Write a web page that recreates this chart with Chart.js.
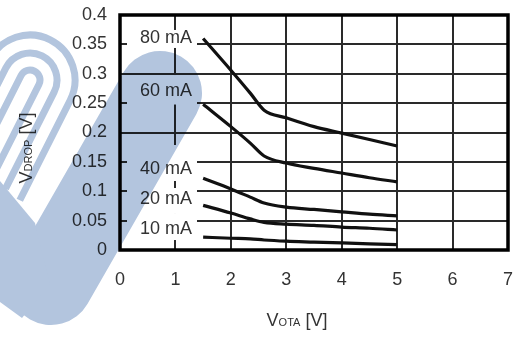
<!DOCTYPE html>
<html>
<head>
<meta charset="utf-8">
<script src="https://cdn.jsdelivr.net/npm/chart.js@4"></script>
<style>
  html, body { margin: 0; padding: 0; background: #fff; }
  #wrap { width: 518px; height: 338px; }
</style>
</head>
<body>
<div id="wrap"><canvas id="c" width="518" height="338"></canvas></div>
<script>
// ---- data ----
const vota = [1.5, 2, 2.35, 2.6, 3, 3.5, 4, 4.5, 5];
const v80 = [0.36, 0.306, 0.267, 0.238, 0.225, 0.21, 0.199, 0.188, 0.177];
const v60 = [0.248, 0.21, 0.182, 0.16, 0.148, 0.139, 0.131, 0.123, 0.116];
const v40 = [0.122, 0.104, 0.09, 0.08, 0.073, 0.069, 0.065, 0.061, 0.058];
const v20 = [0.076, 0.063, 0.053, 0.047, 0.044, 0.042, 0.039, 0.037, 0.034];
const v10 = [0.022, 0.02, 0.019, 0.017, 0.015, 0.0135, 0.012, 0.0105, 0.009];
const currents = ['80 mA', '60 mA', '40 mA', '20 mA', '10 mA'];
const labelX = [0.83, 0.83, 0.83, 0.83, 0.83];
const labelY = [0.3626, 0.2723, 0.1396, 0.0885, 0.0374];
const xTicks = [0, 1, 2, 3, 4, 5, 6, 7];
const yTicks = [0, 0.05, 0.1, 0.15, 0.2, 0.25, 0.3, 0.35, 0.4];

// ---- styling (not data) ----
const boxUp = [7, 15, 23, 10, 15];
const boxDown = [11, 14.5, 13, 15, 12];
const FONT = "'Liberation Sans', Arial, sans-serif";
const TXT = '#333';

const series = [v80, v60, v40, v20, v10];
const datasets = series.map((vals, i) => ({
  label: currents[i],
  data: vals.map((v, k) => ({ x: vota[k], y: v })),
  borderColor: '#111',
  borderWidth: 3.2,
  pointRadius: 0,
  fill: false,
  cubicInterpolationMode: 'monotone'
}));

function noPad(s) { s.paddingLeft = 0; s.paddingRight = 0; s.paddingTop = 0; s.paddingBottom = 0; }

const deco = {
  id: 'deco',
  beforeDraw(chart) {
    const ctx = chart.ctx;
    ctx.save();
    ctx.fillStyle = '#fff';
    ctx.fillRect(0, 0, chart.width, chart.height);
    ctx.restore();
  },
  beforeDatasetsDraw(chart) {
    const ctx = chart.ctx, xs = chart.scales.x, ys = chart.scales.y;
    ctx.save();
    ctx.font = '18px ' + FONT;
    ctx.textAlign = 'center';
    ctx.textBaseline = 'middle';
    currents.forEach((t, i) => {
      const cx = xs.getPixelForValue(labelX[i]);
      const cy = ys.getPixelForValue(labelY[i]);
      ctx.fillStyle = '#fff';
      ctx.fillRect(cx - 39, cy - boxUp[i], 70, boxUp[i] + boxDown[i]);
      ctx.fillStyle = TXT;
      ctx.fillText(t, cx, cy + 1);
    });
    ctx.restore();
  },
  afterDatasetsDraw(chart) {
    const ctx = chart.ctx, a = chart.chartArea;
    ctx.save();
    ctx.strokeStyle = '#000';
    ctx.lineWidth = 3.5;
    ctx.strokeRect(a.left, a.top, a.right - a.left, a.bottom - a.top);
    ctx.fillStyle = TXT;
    ctx.textBaseline = 'alphabetic';
    const big = '18px ' + FONT, small = '11px ' + FONT;
    ctx.font = big; const w1 = ctx.measureText('V').width;
    ctx.font = small; const w2 = ctx.measureText('OTA').width;
    ctx.font = big; const w3 = ctx.measureText(' [V]').width;
    let x0 = 297 - (w1 + w2 + w3) / 2, by = 326;
    ctx.textAlign = 'left';
    ctx.font = big; ctx.fillText('V', x0, by);
    ctx.font = small; ctx.fillText('OTA', x0 + w1, by);
    ctx.font = big; ctx.fillText(' [V]', x0 + w1 + w2, by);
    ctx.font = small; const u2 = ctx.measureText('DROP').width;
    const tot = w1 + u2 + w3;
    ctx.translate(32, 148);
    ctx.rotate(-Math.PI / 2);
    let s = -tot / 2;
    ctx.font = big; ctx.fillText('V', s, 0);
    ctx.font = small; ctx.fillText('DROP', s + w1, 0);
    ctx.font = big; ctx.fillText(' [V]', s + w1 + u2, 0);
    ctx.restore();
  },
  afterDraw(chart) {
    const ctx = chart.ctx;
    const off = document.createElement('canvas');
    off.width = chart.width; off.height = chart.height;
    const o = off.getContext('2d');
    const col = '#b3c5de';
    o.strokeStyle = col;
    o.fillStyle = col;
    o.lineCap = 'round';
    o.lineWidth = 84;
    o.beginPath();
    o.moveTo(160, 93);
    o.lineTo(51, 283);
    o.stroke();
    o.beginPath();
    o.moveTo(0, 181);
    o.lineTo(35, 223);
    o.lineTo(50, 284);
    o.lineTo(22, 318);
    o.lineTo(0, 302);
    o.closePath();
    o.fill();
    const C = [30, 80], d = [-0.45, 0.893], n = [0.893, 0.45];
    o.lineWidth = 7;
    o.lineCap = 'butt';
    [[45, 112], [27, 108], [10, 104]].forEach(([r, L]) => {
      o.beginPath();
      o.moveTo(C[0] - n[0] * r + d[0] * L, C[1] - n[1] * r + d[1] * L);
      o.lineTo(C[0] - n[0] * r, C[1] - n[1] * r);
      const a0 = Math.atan2(-n[1], -n[0]);
      o.arc(C[0], C[1], r, a0, a0 + Math.PI, false);
      o.lineTo(C[0] + n[0] * r + d[0] * L, C[1] + n[1] * r + d[1] * L);
      o.stroke();
    });
    ctx.save();
    ctx.globalCompositeOperation = 'multiply';
    ctx.drawImage(off, 0, 0);
    ctx.restore();
  }
};

new Chart(document.getElementById('c'), {
  type: 'line',
  data: { datasets },
  options: {
    responsive: false,
    animation: false,
    events: [],
    layout: { padding: { top: 15, right: 10, left: 0, bottom: 0 } },
    plugins: { legend: { display: false }, tooltip: { enabled: false }, title: { display: false } },
    scales: {
      x: {
        type: 'linear', min: 0, max: 7,
        afterBuildTicks: s => { s.ticks = xTicks.map(v => ({ value: v })); },
        afterFit: s => { s.height = 88; noPad(s); },
        ticks: { font: { size: 18, family: FONT }, color: TXT, padding: 19, maxRotation: 0, callback: v => String(v) },
        grid: { color: '#2a2a2a', lineWidth: 2, drawTicks: false },
        border: { display: false }
      },
      y: {
        min: 0, max: 0.4,
        afterBuildTicks: s => { s.ticks = yTicks.map(v => ({ value: v })); },
        afterFit: s => { s.width = 120; noPad(s); },
        ticks: { font: { size: 18, family: FONT }, color: TXT, padding: 13, callback: v => String(+v.toFixed(2)) },
        grid: { color: '#2a2a2a', lineWidth: 2, drawTicks: false },
        border: { display: false }
      }
    }
  },
  plugins: [deco]
});
</script>
</body>
</html>
